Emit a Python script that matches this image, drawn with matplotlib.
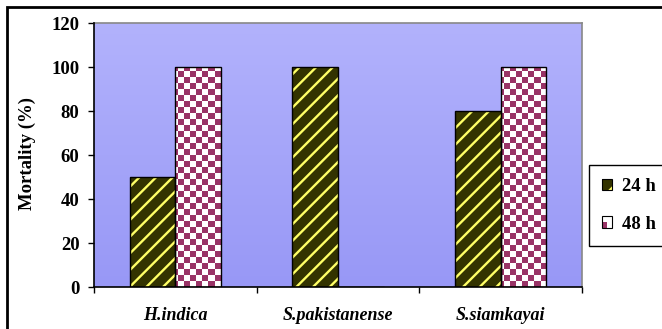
import numpy as np
import matplotlib
matplotlib.use('Agg')
import matplotlib.pyplot as plt
from matplotlib.colors import ListedColormap, LinearSegmentedColormap
from matplotlib.patches import Rectangle
from matplotlib.legend_handler import HandlerBase

# data
species = ['H.indica', 'S.pakistanense', 'S.siamkayai']
series = ['24 h', '48 h']
mort_24h = [50, 100, 80]
mort_48h = [100, 0, 100]
yticks = [0, 20, 40, 60, 80, 100, 120]

dark = '#333300'
yellow = '#ffff66'
maroon = '#993366'

plt.rcParams['font.family'] = ['Liberation Serif', 'DejaVu Serif']
plt.rcParams['font.weight'] = 'bold'
plt.rcParams['hatch.linewidth'] = 1.7

fs = 13.5

fig = plt.figure(figsize=(6.62, 3.29), dpi=100)
ax = fig.add_axes([94 / 662, 1 - 287 / 329, 488 / 662, 264 / 329])

x = np.arange(len(species))
w = 0.28
xlim = (-0.5, len(species) - 0.5)
ylim = (0, 120)

# background gradient of the plot area
grad = np.linspace(0, 1, 100).reshape(-1, 1)
bg_cmap = LinearSegmentedColormap.from_list('bg', ['#9898f6', '#b2b2fc'])
ax.imshow(grad, extent=[*xlim, *ylim], origin='lower', aspect='auto',
          cmap=bg_cmap, zorder=0)

# 24 h: dark bars with yellow stripes
ax.bar(x - w / 2, mort_24h, w, facecolor=dark, edgecolor=yellow, hatch='//',
       linewidth=0, zorder=2)
ax.bar(x - w / 2, mort_24h, w, facecolor='none', edgecolor='black',
       linewidth=1.0, zorder=4)

# 48 h: checkerboard bars
bars48 = ax.bar(x + w / 2, mort_48h, w, facecolor='white', edgecolor='none',
                linewidth=0, zorder=2)
nx, ny = 81, 44
ii, jj = np.meshgrid(np.arange(nx), np.arange(ny))
checker = (ii + jj) % 2
chk_cmap = ListedColormap(['white', maroon])
for b in bars48:
    if b.get_height() <= 0:
        continue
    im = ax.imshow(checker, extent=[*xlim, *ylim], origin='lower',
                   aspect='auto', cmap=chk_cmap, interpolation='nearest',
                   zorder=3)
    im.set_clip_path(b)
ax.bar(x + w / 2, mort_48h, w, facecolor='none', edgecolor='black',
       linewidth=1.0, zorder=4)

ax.set_xlim(*xlim)
ax.set_ylim(*ylim)

# axes styling
for s in ['top', 'right']:
    ax.spines[s].set_color('#888888')
    ax.spines[s].set_linewidth(1.2)
for s in ['left', 'bottom']:
    ax.spines[s].set_color('black')
    ax.spines[s].set_linewidth(1.2)
    ax.spines[s].set_zorder(5)

ax.set_yticks(yticks)
ax.tick_params(axis='y', direction='out', length=4.5, width=1, pad=6,
               labelsize=fs)
ax.set_xticks(np.arange(len(species) + 1) - 0.5)
ax.set_xticklabels([])
ax.tick_params(axis='x', which='major', direction='out', length=4.5, width=1)
ax.set_xticks(x, minor=True)
ax.set_xticklabels(species, minor=True, style='italic', fontsize=13)
ax.tick_params(axis='x', which='minor', length=0, pad=14.5)

fig.text(27 / 662, 1 - 154 / 329, 'Mortality (%)',
         rotation=90, ha='center', va='center', fontsize=fs)


class StripeHandler(HandlerBase):
    def create_artists(self, legend, orig_handle, xdescent, ydescent, width,
                       height, fontsize, trans):
        x0, y0 = -xdescent, -ydescent
        p1 = Rectangle((x0, y0), width, height, facecolor=dark,
                       edgecolor=yellow, hatch='/', linewidth=0,
                       transform=trans)
        p2 = Rectangle((x0, y0), width, height, facecolor='none',
                       edgecolor='black', linewidth=0.8, transform=trans)
        return [p1, p2]


class CheckHandler(HandlerBase):
    def create_artists(self, legend, orig_handle, xdescent, ydescent, width,
                       height, fontsize, trans):
        x0, y0 = -xdescent, -ydescent
        p1 = Rectangle((x0, y0), width, height, facecolor='white',
                       edgecolor='none', transform=trans)
        p2 = Rectangle((x0, y0), width * 0.5, height * 0.5, facecolor=maroon,
                       edgecolor='none', transform=trans)
        p3 = Rectangle((x0, y0), width, height, facecolor='none',
                       edgecolor='black', linewidth=0.8, transform=trans)
        return [p1, p2, p3]


h24 = Rectangle((0, 0), 1, 1)
h48 = Rectangle((0, 0), 1, 1)
leg = fig.legend([h24, h48], series,
                 handler_map={h24: StripeHandler(), h48: CheckHandler()},
                 loc='upper left', bbox_to_anchor=(589 / 662, 1 - 165 / 329),
                 bbox_transform=fig.transFigure, borderaxespad=0,
                 fontsize=fs, handlelength=0.55, handleheight=0.55,
                 handletextpad=0.5, labelspacing=1.1, borderpad=0.7,
                 fancybox=False, framealpha=1, edgecolor='black')
leg.get_frame().set_linewidth(1.0)

# outer chart frame
fig.patches.append(Rectangle((7 / 662, -0.1), 1.2, 1 - 7 / 329 + 0.1,
                             transform=fig.transFigure, fill=False,
                             edgecolor='black', linewidth=2.0))

fig.savefig('out.png', dpi=100)
